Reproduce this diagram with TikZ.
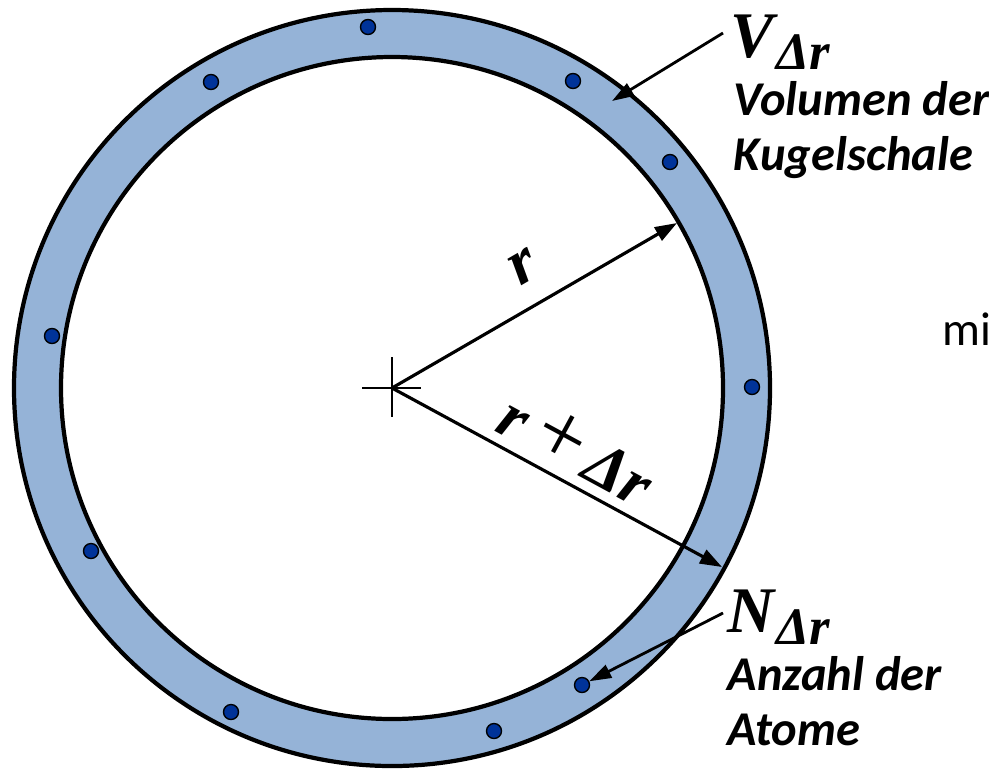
\documentclass[tikz,border=0pt]{standalone}
\usepackage[no-math]{fontspec}
\setmainfont{Carlito}
\newfontfamily\symfont{Liberation Serif}
\usetikzlibrary{arrows.meta}
\definecolor{ringclr}{HTML}{95B3D7}
\definecolor{atomclr}{HTML}{003399}
\newcommand{\shellsub}[1]{\kern0.02cm\raisebox{-0.12cm}{\fontsize{15}{15}\selectfont #1}}

\begin{document}
\begin{tikzpicture}[
  x=0.01cm, y=-0.01cm,
  shell/.style={line width=1.2pt, draw=black},
  atom/.style={circle, draw=black, line width=0.4pt, fill=atomclr, inner sep=0pt, minimum size=0.15cm},
  radarrow/.style={-{Triangle[length=0.22cm, width=0.15cm]}, line width=0.9pt},
  pointer/.style={-{Triangle[length=0.22cm, width=0.14cm]}, line width=0.8pt},
  symb/.style={font=\symfont\fontsize{18.5}{22}\selectfont\bfseries\itshape, inner sep=0pt},
  desc/.style={font=\fontsize{13.8}{16}\selectfont\bfseries\itshape, anchor=base west, inner sep=0pt},
]
\useasboundingbox (0,0) rectangle (989,769);

% Ring (spherical shell)
\coordinate (c) at (392,388);
\fill[ringclr, even odd rule] (c) circle[radius=378] (c) circle[radius=331];
\draw[shell] (c) circle[radius=378];
\draw[shell] (c) circle[radius=331];

% Atoms in the shell
\foreach \p [count=\i] in {(368,27),(211,82),(573,81),(670,162),(52,336),
                           (752,387),(91,551),(231,712),(494,731),(582,685)}
  \node[atom] (a\i) at \p {};

% Centre cross
\draw[line width=0.6pt] (362,388) -- (421,388);
\draw[line width=0.6pt] (392,357) -- (392,417);

% Radii
\coordinate (rin)  at (677,223);
\coordinate (rout) at (722,567);
\draw[radarrow] (c) -- (rin)
  node[symb, pos=0.53, sloped, above=0.22cm] (rlab) {r};
\draw[radarrow] (c) -- (rout)
  node[symb, pos=0.51, sloped, above=0.1cm] (drlab)
  {r\kern0.13cm{\mdseries\upshape\fontsize{25}{25}\selectfont +}\kern0.1cm Δr};

% Labels
\node[symb, anchor=base west] (vlab) at (730,57) {V\shellsub{Δr}};
\node[desc] (vtxt1) at (733,115) {Volumen der};
\node[desc] (vtxt2) at (733,170) {Kugelschale};
\node[symb, anchor=base west] (nlab) at (727,632) {N\shellsub{Δr}};
\node[desc] (ntxt1) at (727,690) {Anzahl der};
\node[desc] (ntxt2) at (727,745) {Atome};
\node[font=\fontsize{13.5}{16}\selectfont, anchor=base west, inner sep=0pt] (mi) at (942,345) {mi};

% Pointers
\coordinate (vstart) at (723,33);
\coordinate (vshell) at (612,101);
\coordinate (nstart) at (723,613);
\draw[pointer] (vstart) -- (vshell);
\draw[pointer] (nstart) -- (a10);

\end{tikzpicture}
\end{document}
